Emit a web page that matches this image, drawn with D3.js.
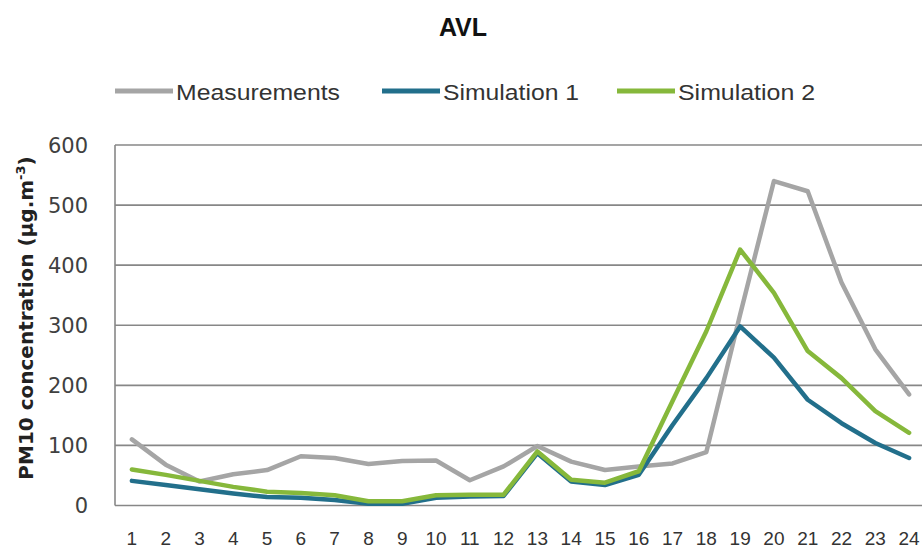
<!DOCTYPE html>
<html>
<head>
<meta charset="utf-8">
<script src="https://cdn.jsdelivr.net/npm/d3@7"></script>
<style>
  html, body { margin: 0; padding: 0; background: #ffffff; }
  svg { display: block; }
</style>
</head>
<body>
<svg id="chart" width="922" height="551"></svg>
<script>
const hours = ["1","2","3","4","5","6","7","8","9","10","11","12","13","14","15","16","17","18","19","20","21","22","23","24"];
const measurements = [110, 68, 40, 52, 59, 82, 79, 69, 74, 75, 42, 65, 99, 73, 59, 65, 70, 89, 318, 540, 523, 371, 260, 185];
const simulation1 = [41, 34, 27, 20, 14, 13, 9, 3, 3, 13, 15, 16, 87, 40, 34, 51, 134, 212, 298, 246, 176, 137, 104, 79];
const simulation2 = [60, 51, 41, 31, 23, 21, 17, 7, 7, 17, 18, 18, 90, 43, 38, 57, 174, 290, 426, 354, 257, 212, 157, 121];
const yTicks = [0, 100, 200, 300, 400, 500, 600];
const seriesNames = ["Measurements", "Simulation 1", "Simulation 2"];
const seriesColors = ["#a5a5a5", "#226f8b", "#86b83b"];

const series = [measurements, simulation1, simulation2];

const svg = d3.select("#chart");
const plotL = 115, plotR = 926, plotT = 145, plotB = 505.5;

const x = d3.scaleBand().domain(hours).range([plotL, plotR]).padding(0);
const y = d3.scaleLinear().domain([0, 600]).range([plotB, plotT]);
const cx = d => x(d) + x.bandwidth() / 2;

// gridlines
svg.append("g").selectAll("line").data(yTicks).join("line")
  .attr("x1", plotL).attr("x2", plotR)
  .attr("y1", d => y(d)).attr("y2", d => y(d))
  .attr("stroke", "#878787").attr("stroke-width", 1.6);

// left axis border
svg.append("line").attr("x1", plotL).attr("x2", plotL).attr("y1", plotT).attr("y2", plotB)
  .attr("stroke", "#878787").attr("stroke-width", 1.6);

// y tick labels
svg.append("g").selectAll("text").data(yTicks).join("text")
  .attr("x", 88).attr("y", d => y(d)).attr("dy", "0.36em")
  .attr("text-anchor", "end")
  .attr("font-family", "DejaVu Sans, sans-serif").attr("font-size", 21)
  .attr("fill", "#404040")
  .text(d => d);

// x tick labels
svg.append("g").selectAll("text").data(hours).join("text")
  .attr("x", d => cx(d)).attr("y", 545)
  .attr("text-anchor", "middle")
  .attr("font-family", "Liberation Sans, Arial, sans-serif").attr("font-size", 19)
  .attr("fill", "#333333")
  .text(d => d);

// lines
const line = d3.line().x((d, i) => cx(hours[i])).y(d => y(d));
svg.append("g").selectAll("path").data(series).join("path")
  .attr("d", d => line(d))
  .attr("fill", "none")
  .attr("stroke", (d, i) => seriesColors[i])
  .attr("stroke-width", 4.5)
  .attr("stroke-linejoin", "round")
  .attr("stroke-linecap", "round");

// title
svg.append("text").attr("x", 463).attr("y", 36).attr("text-anchor", "middle")
  .attr("font-family", "Liberation Sans, Arial, sans-serif").attr("font-weight", "bold")
  .attr("font-size", 25).attr("fill", "#111").text("AVL");

// legend
const legendX = [115, 382, 617];
const legendTextW = [164, 136, 137];
const lg = svg.append("g").selectAll("g").data(seriesNames).join("g");
lg.append("line")
  .attr("x1", (d, i) => legendX[i]).attr("x2", (d, i) => legendX[i] + 58)
  .attr("y1", 91).attr("y2", 91)
  .attr("stroke", (d, i) => seriesColors[i]).attr("stroke-width", 5);
lg.append("text")
  .attr("x", (d, i) => legendX[i] + 61).attr("y", 100)
  .attr("font-family", "Liberation Sans, Arial, sans-serif").attr("font-size", 22)
  .attr("fill", "#333333")
  .attr("textLength", (d, i) => legendTextW[i]).attr("lengthAdjust", "spacingAndGlyphs")
  .text(d => d);

// y axis title
const yt = svg.append("text")
  .attr("transform", "translate(33,318) rotate(-90)")
  .attr("text-anchor", "middle")
  .attr("font-family", "DejaVu Sans, sans-serif").attr("font-weight", "bold")
  .attr("font-size", 20).attr("fill", "#222");
yt.append("tspan").text("PM10 concentration  (μg.m");
yt.append("tspan").attr("font-size", 13).attr("dy", -8).text("-3");
yt.append("tspan").attr("dy", 8).text(")");
</script>
</body>
</html>
